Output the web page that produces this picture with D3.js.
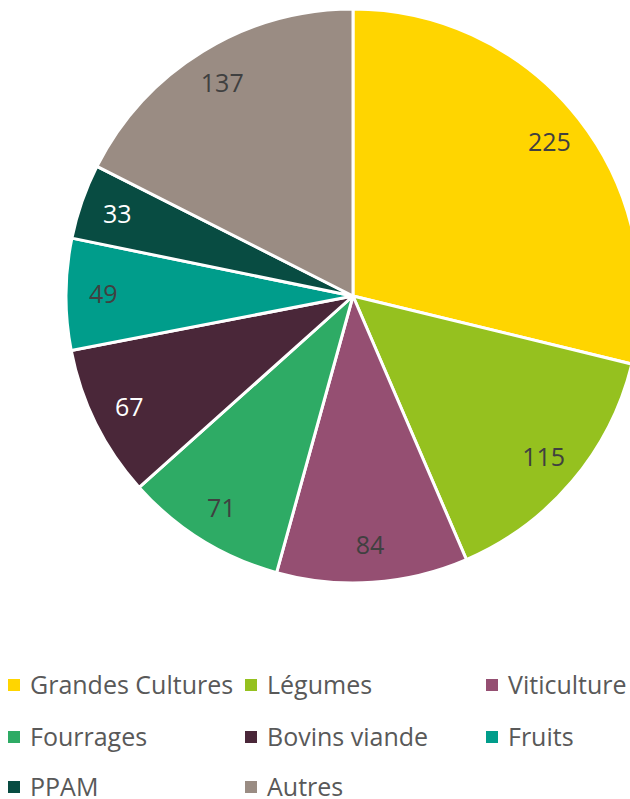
<!DOCTYPE html>
<html>
<head>
<meta charset="utf-8">
<script src="https://cdn.jsdelivr.net/npm/d3@7"></script>
<style>
  body { margin: 0; background: white; overflow: hidden; }
  svg { display: block; }
</style>
</head>
<body>
<div id="chart"></div>
<script>
// categories and values, clockwise from 12 o'clock
var categories = ["Grandes Cultures", "Légumes", "Viticulture", "Fourrages", "Bovins viande", "Fruits", "PPAM", "Autres"];
var values = [225, 115, 84, 71, 67, 49, 33, 137];
var colors = ["#FFD500", "#95C11F", "#954F72", "#2EAB65", "#4A2739", "#009D8B", "#084C42", "#9A8C83"];
var labelColors = ["#404040", "#404040", "#404040", "#404040", "#FFFFFF", "#404040", "#FFFFFF", "#404040"];

var width = 630, height = 799;
var cx = 353, cy = 296, radius = 287;

var data = categories.map(function(c, i) {
    return { name: c, value: values[i], color: colors[i], lab: labelColors[i] };
});

var svg = d3.select("#chart")
    .append("svg")
    .attr("width", width)
    .attr("height", height);

var pie = d3.pie()
    .sort(null)
    .value(function(d) { return d.value; });

var arc = d3.arc()
    .innerRadius(0)
    .outerRadius(radius);

// labels sit at ~0.87 of the radius
var labelArc = d3.arc()
    .innerRadius(radius * 0.87)
    .outerRadius(radius * 0.87);

var g = svg.append("g")
    .attr("transform", "translate(" + cx + "," + cy + ")");

g.selectAll("path")
    .data(pie(data))
    .enter()
    .append("path")
    .attr("d", arc)
    .attr("fill", function(d) { return d.data.color; })
    .attr("stroke", "white")
    .attr("stroke-width", 3)
    .attr("stroke-linejoin", "round");

g.selectAll("text.lbl")
    .data(pie(data))
    .enter()
    .append("text")
    .attr("class", "lbl")
    .attr("transform", function(d) { return "translate(" + labelArc.centroid(d) + ")"; })
    .attr("text-anchor", "middle")
    .attr("dy", "0.36em")
    .style("font-family", "'Open Sans', sans-serif")
    .style("font-size", "25px")
    .style("fill", function(d) { return d.data.lab; })
    .text(function(d) { return d.data.value; });

// legend, three columns
var legCols = [8, 245, 486];
var legRows = [685, 737, 787];

var legend = svg.selectAll("g.leg")
    .data(data)
    .enter()
    .append("g")
    .attr("class", "leg")
    .attr("transform", function(d, i) {
        return "translate(" + legCols[i % 3] + "," + legRows[Math.floor(i / 3)] + ")";
    });

legend.append("rect")
    .attr("x", 0)
    .attr("y", -6)
    .attr("width", 12)
    .attr("height", 12)
    .attr("fill", function(d) { return d.color; });

legend.append("text")
    .attr("x", 22)
    .attr("dy", "0.36em")
    .style("font-family", "'Open Sans', sans-serif")
    .style("font-size", "25px")
    .style("fill", "#595959")
    .text(function(d) { return d.name; });
</script>
</body>
</html>
